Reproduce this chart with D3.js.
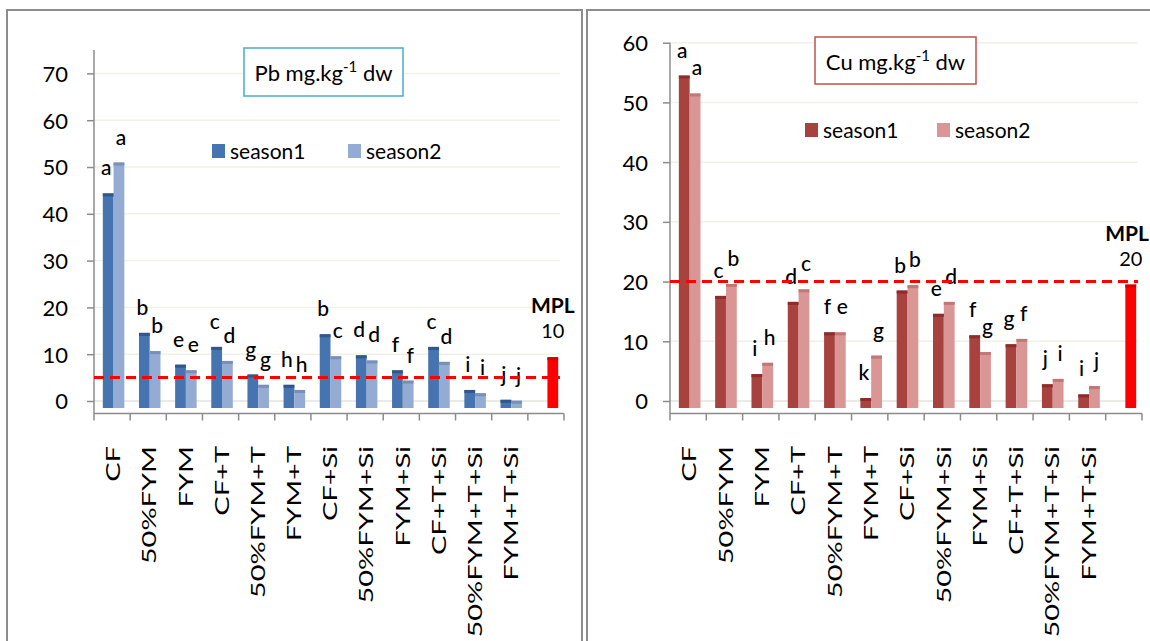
<!DOCTYPE html>
<html>
<head>
<meta charset="utf-8">
<script src="https://cdn.jsdelivr.net/npm/d3@7"></script>
<style>
  body { margin: 0; background: #fff; }
  svg { display: block; }
  text { font-family: Lato, "Open Sans", sans-serif; fill: #000; }
</style>
</head>
<body>
<div id="chart"></div>
<script>

// treatments on the x axis
const categories = ["CF", "50%FYM", "FYM", "CF+T", "50%FYM+T", "FYM+T", "CF+Si",
                    "50%FYM+Si", "FYM+Si", "CF+T+Si", "50%FYM+T+Si", "FYM+T+Si"];

// Pb (mg/kg dw)
const pbSeason1 = [45.0, 15.2, 8.4, 12.2, 6.3, 4.1, 14.9, 10.4, 7.2, 12.2, 3.0, 0.9];
const pbSeason2 = [51.6, 11.3, 7.2, 9.2, 4.1, 3.0, 10.2, 9.3, 5.0, 9.0, 2.3, 0.7];
const pbLetters1 = ["a", "b", "e", "c", "g", "h", "b", "d", "f", "c", "i", "j"];
const pbLetters2 = ["a", "b", "e", "d", "g", "h", "c", "d", "f", "d", "i", "j"];
const pbMPL = 10;
const pbLimit = 5;
const pbTicks = [0, 10, 20, 30, 40, 50, 60, 70];

// Cu (mg/kg dw)
const cuSeason1 = [55.0, 18.1, 5.0, 17.1, 12.0, 1.0, 19.0, 15.1, 11.5, 10.0, 3.3, 1.6];
const cuSeason2 = [52.0, 20.1, 6.9, 19.2, 12.0, 8.1, 19.9, 17.1, 8.7, 10.9, 4.2, 3.0];
const cuLetters1 = ["a", "c", "i", "d", "f", "k", "b", "e", "f", "g", "j", "i"];
const cuLetters2 = ["a", "b", "h", "c", "e", "g", "b", "d", "g", "f", "i", "j"];
const cuMPL = 20;
const cuLimit = 20;
const cuTicks = [0, 10, 20, 30, 40, 50, 60];

const seriesNames = ["season1", "season2"];

const W = 1150, H = 641;
const DEPTH = 3;          // 3D top face offset
const AXIS_Y = 413.5;     // front edge of the floor / x axis
const FLOOR_Y = 408;      // bottom of bars

const svg = d3.select("#chart").append("svg")
    .attr("width", W)
    .attr("height", H);

// panel borders
svg.append("rect")
    .attr("x", 7).attr("y", 10).attr("width", 575).attr("height", 700)
    .attr("fill", "none").attr("stroke", "#8c8c8c").attr("stroke-width", 2);
svg.append("rect")
    .attr("x", 587).attr("y", 10).attr("width", 600).attr("height", 700)
    .attr("fill", "none").attr("stroke", "#8c8c8c").attr("stroke-width", 2);

drawPanel({
    s1: pbSeason1, s2: pbSeason2, l1: pbLetters1, l2: pbLetters2,
    mpl: pbMPL, limit: pbLimit, ticks: pbTicks, yMax: 75,
    x0: 94, x1: 564, yTop: 50, labelX: 68,
    c1: "#4674b0", c1top: "#2f5789", c2: "#94acd3", c2top: "#7890b8",
    title: "Pb", box: { x: 244, y: 48, w: 159, h: 48, stroke: "#4bacc6" },
    legend: { y: 144, x1: 212, x2: 348 }
});

drawPanel({
    s1: cuSeason1, s2: cuSeason2, l1: cuLetters1, l2: cuLetters2,
    mpl: cuMPL, limit: cuLimit, ticks: cuTicks, yMax: 60,
    x0: 670, x1: 1142, yTop: 42.7, labelX: 648,
    c1: "#a8423f", c1top: "#8a2d2b", c2: "#d99694", c2top: "#c07775",
    title: "Cu", box: { x: 815, y: 37, w: 161, h: 47, stroke: "#c0504d" },
    legend: { y: 123, x1: 805, x2: 937 }
});

function drawPanel(p) {
    const g = svg.append("g");

    const x = d3.scaleBand()
        .domain([...categories, "MPL"])
        .range([p.x0, p.x1]);

    const inner = d3.scaleBand()
        .domain(seriesNames)
        .range([0, x.bandwidth()])
        .paddingOuter(0.68);

    const y = d3.scaleLinear()
        .domain([0, p.yMax])
        .range([401, p.yTop]);

    // gridlines
    g.selectAll(".grid")
        .data(p.ticks)
        .enter().append("line")
        .attr("x1", p.x0).attr("x2", p.x1 - 4)
        .attr("y1", d => y(d)).attr("y2", d => y(d))
        .attr("stroke", d => d === 0 ? "#e4e4dc" : "#f1f1e8")
        .attr("stroke-width", 1.5);

    // y axis
    const yAxis = g.append("g")
        .attr("transform", `translate(${p.x0},0)`)
        .call(d3.axisLeft(y).tickValues(p.ticks).tickSize(7).tickPadding(0));
    yAxis.select(".domain").remove();
    yAxis.selectAll(".tick line").attr("stroke", "#8c8c8c").attr("stroke-width", 1.5);
    yAxis.selectAll(".tick text")
        .attr("x", p.labelX - p.x0)
        .attr("dy", "0.36em")
        .style("font-size", "22px")
        .style("font-family", "Lato, sans-serif")
        .attr("fill", "#000");

    g.append("line")
        .attr("x1", p.x0).attr("x2", p.x0)
        .attr("y1", p.yTop).attr("y2", AXIS_Y)
        .attr("stroke", "#8c8c8c").attr("stroke-width", 1.5);

    // x axis with ticks at band boundaries
    g.append("line")
        .attr("x1", p.x0).attr("x2", p.x1)
        .attr("y1", AXIS_Y).attr("y2", AXIS_Y)
        .attr("stroke", "#8c8c8c").attr("stroke-width", 1.5);
    const bounds = x.domain().map(d => x(d)).concat([p.x1]);
    g.selectAll(".xtick")
        .data(bounds)
        .enter().append("line")
        .attr("x1", d => d).attr("x2", d => d)
        .attr("y1", AXIS_Y).attr("y2", AXIS_Y + 7)
        .attr("stroke", "#8c8c8c").attr("stroke-width", 1.5);

    // category labels, rotated
    g.selectAll(".cat")
        .data(categories)
        .enter().append("text")
        .attr("transform", d => `translate(${x(d) + x.bandwidth() / 2 + 1},446) rotate(-90) scale(1.45,1)`)
        .attr("text-anchor", "end")
        .attr("dy", "0.36em")
        .style("font-size", "20px")
        .text(d => d);

    // bars
    const rows = [];
    categories.forEach((c, i) => {
        rows.push({ cat: c, s: "season1", v: p.s1[i], lab: p.l1[i], fill: p.c1, top: p.c1top, dx: -2 });
        rows.push({ cat: c, s: "season2", v: p.s2[i], lab: p.l2[i], fill: p.c2, top: p.c2top, dx: 2 });
    });
    rows.push({ cat: "MPL", s: "season2", v: p.mpl, lab: null, fill: "#ff0000", top: "#d00000", dx: 0 });

    const bx = d => x(d.cat) + inner(d.s) + 1.5;

    g.selectAll(".bar")
        .data(rows)
        .enter().append("rect")
        .attr("x", bx)
        .attr("y", d => y(d.v) + DEPTH)
        .attr("width", inner.bandwidth())
        .attr("height", d => FLOOR_Y - y(d.v) - DEPTH)
        .attr("fill", d => d.fill);

    g.selectAll(".bartop")
        .data(rows)
        .enter().append("rect")
        .attr("x", bx)
        .attr("y", d => y(d.v) + DEPTH)
        .attr("width", inner.bandwidth())
        .attr("height", 3)
        .attr("fill", d => d.top);

    // significance letters
    g.selectAll(".letter")
        .data(rows.filter(d => d.lab))
        .enter().append("text")
        .attr("x", d => bx(d) + inner.bandwidth() / 2 + d.dx)
        .attr("y", d => y(d.v) - 15)
        .attr("text-anchor", "middle")
        .style("font-size", "21px")
        .style("font-weight", 500)
        .text(d => d.lab);

    // limit line
    g.append("line")
        .attr("x1", p.x0).attr("x2", p.x1 - 4)
        .attr("y1", y(p.limit)).attr("y2", y(p.limit))
        .attr("stroke", "#ff0000").attr("stroke-width", 3)
        .attr("stroke-dasharray", "10,6");

    // MPL label, kept inside the picture
    const mx = x("MPL") + inner("season2") + 1.5 + inner.bandwidth() / 2;
    const mpl = g.append("text")
        .attr("x", mx).attr("y", y(p.mpl) - 41)
        .attr("text-anchor", "middle")
        .style("font-size", "21px").style("font-weight", "bold")
        .text("MPL");
    const mw = mpl.node().getComputedTextLength();
    if (mx + mw / 2 > W - 1) mpl.attr("x", W - 1 - mw / 2);
    g.append("text")
        .attr("x", mx).attr("y", y(p.mpl) - 16)
        .attr("text-anchor", "middle")
        .style("font-size", "20px")
        .text(p.mpl);

    // title box
    g.append("rect")
        .attr("x", p.box.x).attr("y", p.box.y)
        .attr("width", p.box.w).attr("height", p.box.h)
        .attr("fill", "#fff").attr("stroke", p.box.stroke).attr("stroke-width", 1.5);
    const t = g.append("text")
        .attr("x", p.box.x + p.box.w / 2)
        .attr("y", p.box.y + 33)
        .attr("text-anchor", "middle")
        .style("font-size", "22px");
    t.append("tspan").text(p.title + " mg.kg");
    t.append("tspan").attr("dy", -9).style("font-size", "15px").text("-1");
    t.append("tspan").attr("dy", 9).text(" dw");

    // legend
    const lg = g.selectAll(".legend")
        .data([{ name: "season1", c: p.c1, x: p.legend.x1 }, { name: "season2", c: p.c2, x: p.legend.x2 }])
        .enter().append("g");
    lg.append("rect")
        .attr("x", d => d.x).attr("y", p.legend.y)
        .attr("width", 13).attr("height", 14)
        .attr("fill", d => d.c);
    lg.append("text")
        .attr("x", d => d.x + 18).attr("y", p.legend.y + 15)
        .style("font-size", "21px")
        .text(d => d.name);
}
</script>
</body>
</html>
